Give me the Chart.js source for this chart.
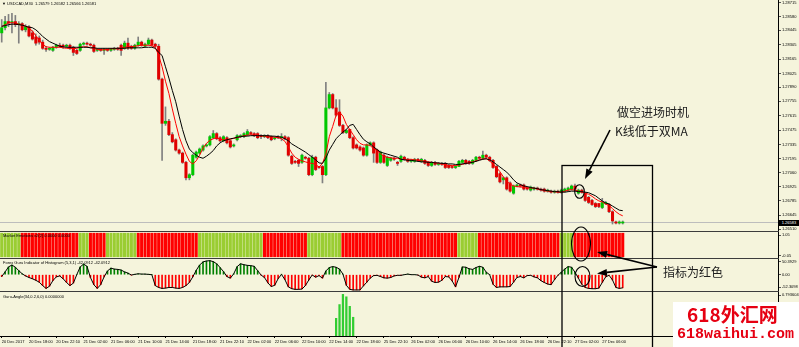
<!DOCTYPE html>
<html>
<head>
<meta charset="utf-8">
<title>USDCAD,M30</title>
<script src="https://cdn.jsdelivr.net/npm/chart.js@4.4.1/dist/chart.umd.min.js"></script>
<style>
html, body { margin: 0; padding: 0; }
body { position: relative; width: 799px; height: 347px; overflow: hidden; background: #f5f4dc; font-family: "Liberation Sans", Arial, sans-serif; }
canvas { position: absolute; left: 0; }
.sep { position: absolute; left: 0; width: 779px; height: 1px; background: #3c3c3c; }
.small { position: absolute; font-size: 4px; line-height: 5px; white-space: nowrap; color: #000; }
.note { position: absolute; font-family: "Noto Sans CJK SC", sans-serif; font-size: 12px; line-height: 14px; color: #202020; white-space: nowrap; }
#bid { position: absolute; left: 779px; top: 219.7px; width: 20px; height: 6px; background: #000; color: #fff; font-size: 4px; line-height: 6px; text-align: center; }
#wm { position: absolute; left: 673px; top: 302px; width: 126px; height: 45px; background: #fff; }
#wm1 { position: absolute; left: 14px; top: 1px; font-family: "Noto Sans CJK SC", sans-serif; font-weight: bold; font-size: 19px; line-height: 22px; color: #e60012; white-space: nowrap; }
#wm2 { position: absolute; left: 4px; top: 24px; font-family: "Liberation Mono", monospace; font-weight: bold; font-size: 15px; line-height: 18px; color: #e60012; white-space: nowrap; }
svg { position: absolute; left: 0; top: 0; }
</style>
</head>
<body>
<canvas id="mainChart" width="799" height="250" style="top:-10px"></canvas>
<canvas id="emoChart" width="799" height="46" style="top:222px"></canvas>
<canvas id="histChart" width="799" height="52" style="top:249px"></canvas>
<canvas id="angleChart" width="799" height="65" style="top:282px"></canvas>

<div class="sep" style="top:231px"></div>
<div class="sep" style="top:258px"></div>
<div class="sep" style="top:291px"></div>

<div class="small" style="left:2px;top:1px">&#9660; USDCAD,M30&nbsp; 1.26579 1.26582 1.26566 1.26581</div>
<div class="small" style="left:3px;top:233px">Market Emotions v2(2) 0.0000 0.0000</div>
<div class="small" style="left:3px;top:260px">Forex Guru Indicator of Histogram (5,3,1) -42.0912 -42.0912</div>
<div class="small" style="left:3px;top:294px">Guru-Angle(34,0.2,6,0) 0.0000000</div>
<div id="bid">1.26583</div>

<svg width="799" height="347">
  <rect x="562" y="165.5" width="90.5" height="190" fill="none" stroke="#000" stroke-width="1.3"/>
  <ellipse cx="579.5" cy="191.5" rx="4.8" ry="6.8" fill="none" stroke="#000" stroke-width="1.1"/>
  <ellipse cx="581" cy="244" rx="9.5" ry="17" fill="none" stroke="#000" stroke-width="1.1"/>
  <ellipse cx="582.5" cy="276.5" rx="7.5" ry="10" fill="none" stroke="#000" stroke-width="1.1"/>
  <line x1="610" y1="130" x2="589.5" y2="170.1" stroke="#000" stroke-width="1.6"/>
  <polygon points="585,179 592.6,171.7 586.4,168.5" fill="#000"/>
  <line x1="657" y1="267" x2="606.7" y2="254.4" stroke="#000" stroke-width="1.6"/>
  <polygon points="597,252 607.6,251 605.9,257.8" fill="#000"/>
  <line x1="657" y1="267" x2="606.9" y2="272.4" stroke="#000" stroke-width="1.6"/>
  <polygon points="597,273.5 607.3,275.9 606.6,268.9" fill="#000"/>
</svg>

<div class="note" style="left:617px;top:105px">做空进场时机</div>
<div class="note" style="left:615px;top:124px">K线低于双MA</div>
<div class="note" style="left:663px;top:265px">指标为红色</div>

<div id="wm"><div id="wm1">618外汇网</div><div id="wm2">618waihui.com</div></div>

<script>
// USDCAD M30, 20 Dec 2017 - 27 Dec 2017
const timeLabels = ['20 Dec 2017', '20 Dec 18:00', '20 Dec 22:10', '21 Dec 02:00', '21 Dec 06:00', '21 Dec 10:00',
    '21 Dec 14:00', '21 Dec 18:00', '21 Dec 22:10', '22 Dec 02:00', '22 Dec 06:00', '22 Dec 10:00', '22 Dec 14:00',
    '22 Dec 18:00', '25 Dec 22:10', '26 Dec 02:00', '26 Dec 06:00', '26 Dec 10:00', '26 Dec 14:00', '26 Dec 18:00',
    '26 Dec 22:10', '27 Dec 02:00', '27 Dec 06:00'];

const openP = [
    1.2842, 1.2847, 1.2853, 1.2852, 1.2853, 1.2850, 1.2851, 1.2845, 1.2848, 1.2842,
    1.2838, 1.2837, 1.2833, 1.2827, 1.2826, 1.2825, 1.2828, 1.2830, 1.2830, 1.2829,
    1.2830, 1.2828, 1.2825, 1.2825, 1.2831, 1.2832, 1.2831, 1.2830, 1.2825, 1.2826,
    1.2825, 1.2826, 1.2825, 1.2826, 1.2827, 1.2830, 1.2827, 1.2832, 1.2829, 1.2827,
    1.2830, 1.2833, 1.2829, 1.2831, 1.2835, 1.2831, 1.2829, 1.2797, 1.2754, 1.2756,
    1.2743, 1.2738, 1.2728, 1.2725, 1.2716, 1.2701, 1.2704, 1.2721, 1.2725, 1.2728,
    1.2732, 1.2733, 1.2740, 1.2744, 1.2740, 1.2737, 1.2740, 1.2737, 1.2732, 1.2738,
    1.2741, 1.2741, 1.2743, 1.2745, 1.2744, 1.2744, 1.2742, 1.2741, 1.2742, 1.2741,
    1.2739, 1.2741, 1.2740, 1.2741, 1.2740, 1.2722, 1.2717, 1.2718, 1.2716, 1.2721,
    1.2720, 1.2704, 1.2721, 1.2712, 1.2712, 1.2704, 1.2769, 1.2782, 1.2769, 1.2765,
    1.2752, 1.2745, 1.2748, 1.2740, 1.2733, 1.2731, 1.2730, 1.2723, 1.2733, 1.2735,
    1.2728, 1.2716, 1.2723, 1.2713, 1.2718, 1.2720, 1.2716, 1.2717, 1.2721, 1.2719,
    1.2717, 1.2717, 1.2719, 1.2717, 1.2718, 1.2716, 1.2713, 1.2716, 1.2714, 1.2715,
    1.2715, 1.2713, 1.2712, 1.2711, 1.2712, 1.2716, 1.2718, 1.2717, 1.2715, 1.2718,
    1.2721, 1.2720, 1.2723, 1.2721, 1.2718, 1.2712, 1.2705, 1.2699, 1.2701, 1.2696,
    1.2686, 1.2693, 1.2694, 1.2694, 1.2691, 1.2689, 1.2690, 1.2691, 1.2690, 1.2690,
    1.2688, 1.2688, 1.2687, 1.2688, 1.2687, 1.2688, 1.2689, 1.2690, 1.2693, 1.2686,
    1.2689, 1.2686, 1.2682, 1.2679, 1.2676, 1.2676, 1.2672, 1.2676, 1.2675, 1.2668,
    1.2658, 1.2657, 1.2657];

const highP = [
    1.2855, 1.2858, 1.2860, 1.2861, 1.2859, 1.2853, 1.2852, 1.2850, 1.2849, 1.2844,
    1.2841, 1.2839, 1.2835, 1.2829, 1.2828, 1.2829, 1.2831, 1.2832, 1.2831, 1.2831,
    1.2831, 1.2829, 1.2826, 1.2832, 1.2833, 1.2833, 1.2832, 1.2831, 1.2827, 1.2827,
    1.2827, 1.2827, 1.2827, 1.2828, 1.2828, 1.2831, 1.2834, 1.2837, 1.2830, 1.2831,
    1.2838, 1.2834, 1.2832, 1.2837, 1.2836, 1.2832, 1.2831, 1.2798, 1.2770, 1.2758,
    1.2745, 1.2739, 1.2729, 1.2726, 1.2717, 1.2705, 1.2724, 1.2727, 1.2730, 1.2733,
    1.2734, 1.2742, 1.2747, 1.2745, 1.2741, 1.2742, 1.2741, 1.2738, 1.2734, 1.2743,
    1.2743, 1.2745, 1.2748, 1.2746, 1.2745, 1.2745, 1.2743, 1.2743, 1.2743, 1.2742,
    1.2741, 1.2742, 1.2744, 1.2742, 1.2741, 1.2723, 1.2718, 1.2719, 1.2724, 1.2722,
    1.2721, 1.2723, 1.2722, 1.2712, 1.2713, 1.2794, 1.2784, 1.2783, 1.2777, 1.2777,
    1.2753, 1.2748, 1.2748, 1.2741, 1.2734, 1.2732, 1.2731, 1.2734, 1.2736, 1.2736,
    1.2729, 1.2727, 1.2724, 1.2722, 1.2721, 1.2721, 1.2717, 1.2723, 1.2722, 1.2720,
    1.2719, 1.2720, 1.2720, 1.2720, 1.2719, 1.2717, 1.2717, 1.2717, 1.2716, 1.2716,
    1.2716, 1.2714, 1.2712, 1.2713, 1.2718, 1.2719, 1.2719, 1.2718, 1.2719, 1.2722,
    1.2722, 1.2727, 1.2724, 1.2722, 1.2719, 1.2713, 1.2706, 1.2702, 1.2702, 1.2697,
    1.2694, 1.2695, 1.2695, 1.2695, 1.2692, 1.2693, 1.2692, 1.2692, 1.2691, 1.2691,
    1.2690, 1.2689, 1.2689, 1.2689, 1.2690, 1.2691, 1.2692, 1.2694, 1.2695, 1.2690,
    1.2690, 1.2687, 1.2683, 1.2680, 1.2677, 1.2676, 1.2681, 1.2678, 1.2676, 1.2669,
    1.2659, 1.2659, 1.2659];

const lowP = [
    1.2833, 1.2845, 1.2848, 1.2842, 1.2848, 1.2832, 1.2844, 1.2843, 1.2838, 1.2835,
    1.2830, 1.2831, 1.2826, 1.2824, 1.2825, 1.2824, 1.2827, 1.2828, 1.2827, 1.2828,
    1.2826, 1.2820, 1.2821, 1.2824, 1.2830, 1.2830, 1.2829, 1.2823, 1.2824, 1.2824,
    1.2821, 1.2824, 1.2824, 1.2825, 1.2825, 1.2820, 1.2826, 1.2826, 1.2826, 1.2826,
    1.2829, 1.2829, 1.2828, 1.2830, 1.2829, 1.2828, 1.2796, 1.2718, 1.2752, 1.2742,
    1.2735, 1.2727, 1.2724, 1.2715, 1.2699, 1.2699, 1.2703, 1.2720, 1.2724, 1.2727,
    1.2731, 1.2732, 1.2739, 1.2738, 1.2736, 1.2736, 1.2734, 1.2730, 1.2731, 1.2737,
    1.2740, 1.2740, 1.2742, 1.2743, 1.2741, 1.2739, 1.2739, 1.2740, 1.2739, 1.2737,
    1.2738, 1.2739, 1.2737, 1.2738, 1.2722, 1.2714, 1.2715, 1.2712, 1.2715, 1.2719,
    1.2703, 1.2703, 1.2708, 1.2710, 1.2696, 1.2703, 1.2768, 1.2768, 1.2761, 1.2751,
    1.2744, 1.2744, 1.2739, 1.2729, 1.2729, 1.2727, 1.2722, 1.2722, 1.2732, 1.2716,
    1.2715, 1.2715, 1.2715, 1.2712, 1.2717, 1.2718, 1.2713, 1.2716, 1.2718, 1.2716,
    1.2716, 1.2716, 1.2717, 1.2716, 1.2714, 1.2712, 1.2712, 1.2713, 1.2713, 1.2713,
    1.2710, 1.2710, 1.2710, 1.2710, 1.2712, 1.2715, 1.2714, 1.2714, 1.2714, 1.2717,
    1.2719, 1.2719, 1.2720, 1.2717, 1.2710, 1.2701, 1.2696, 1.2695, 1.2689, 1.2687,
    1.2685, 1.2692, 1.2692, 1.2689, 1.2689, 1.2688, 1.2689, 1.2689, 1.2688, 1.2687,
    1.2687, 1.2686, 1.2686, 1.2686, 1.2686, 1.2687, 1.2688, 1.2689, 1.2689, 1.2685,
    1.2686, 1.2678, 1.2676, 1.2674, 1.2672, 1.2672, 1.2671, 1.2675, 1.2667, 1.2656,
    1.2656, 1.2656, 1.2656];

const closeP = [
    1.2847, 1.2853, 1.2852, 1.2853, 1.2850, 1.2851, 1.2845, 1.2848, 1.2839, 1.2836,
    1.2832, 1.2833, 1.2827, 1.2826, 1.2827, 1.2828, 1.2830, 1.2829, 1.2829, 1.2830,
    1.2827, 1.2823, 1.2822, 1.2831, 1.2832, 1.2831, 1.2830, 1.2824, 1.2826, 1.2825,
    1.2826, 1.2825, 1.2826, 1.2827, 1.2826, 1.2825, 1.2832, 1.2827, 1.2827, 1.2830,
    1.2833, 1.2830, 1.2831, 1.2835, 1.2830, 1.2829, 1.2797, 1.2754, 1.2756, 1.2743,
    1.2736, 1.2728, 1.2725, 1.2716, 1.2701, 1.2704, 1.2723, 1.2726, 1.2729, 1.2732,
    1.2733, 1.2741, 1.2744, 1.2739, 1.2737, 1.2741, 1.2735, 1.2731, 1.2733, 1.2742,
    1.2742, 1.2744, 1.2746, 1.2744, 1.2742, 1.2740, 1.2741, 1.2742, 1.2740, 1.2738,
    1.2740, 1.2740, 1.2741, 1.2739, 1.2723, 1.2715, 1.2716, 1.2715, 1.2723, 1.2720,
    1.2704, 1.2721, 1.2709, 1.2711, 1.2704, 1.2769, 1.2782, 1.2769, 1.2762, 1.2752,
    1.2745, 1.2747, 1.2740, 1.2730, 1.2730, 1.2728, 1.2723, 1.2733, 1.2735, 1.2725,
    1.2716, 1.2726, 1.2716, 1.2721, 1.2720, 1.2719, 1.2715, 1.2722, 1.2719, 1.2717,
    1.2718, 1.2719, 1.2718, 1.2719, 1.2715, 1.2713, 1.2716, 1.2714, 1.2715, 1.2714,
    1.2711, 1.2711, 1.2711, 1.2712, 1.2717, 1.2718, 1.2715, 1.2715, 1.2718, 1.2721,
    1.2720, 1.2723, 1.2721, 1.2718, 1.2711, 1.2702, 1.2697, 1.2701, 1.2690, 1.2688,
    1.2693, 1.2694, 1.2693, 1.2690, 1.2690, 1.2692, 1.2691, 1.2690, 1.2689, 1.2688,
    1.2689, 1.2687, 1.2688, 1.2687, 1.2689, 1.2690, 1.2691, 1.2693, 1.2690, 1.2689,
    1.2687, 1.2679, 1.2677, 1.2675, 1.2673, 1.2673, 1.2677, 1.2677, 1.2668, 1.2659,
    1.2657, 1.2658, 1.2658];

// red (fast) and black (slow) moving averages as drawn on the chart
const maFast = [
    1.2848, 1.2850, 1.28515, 1.2852, 1.28515, 1.28505, 1.28495, 1.28485, 1.2846, 1.2844,
    1.2839, 1.2835, 1.2831, 1.28285, 1.2828, 1.2828, 1.2828, 1.2828, 1.28275, 1.2827,
    1.2827, 1.28265, 1.2827, 1.2828, 1.28285, 1.28285, 1.28275, 1.2827, 1.2826, 1.28255,
    1.28255, 1.2826, 1.28265, 1.28265, 1.2827, 1.28275, 1.2828, 1.28285, 1.28285, 1.2829,
    1.28295, 1.2830, 1.2830, 1.2830, 1.28295, 1.2828, 1.2820, 1.2809, 1.2795, 1.2783,
    1.2768, 1.2754, 1.2741, 1.2732, 1.2724, 1.2717, 1.27145, 1.27175, 1.2723, 1.2730,
    1.27345, 1.27375, 1.2739, 1.2740, 1.27385, 1.2738, 1.2738, 1.27385, 1.27395, 1.2740,
    1.2741, 1.2742, 1.27425, 1.2743, 1.27425, 1.27425, 1.2742, 1.27415, 1.2741, 1.2741,
    1.27405, 1.2740, 1.2739, 1.27365, 1.2731, 1.2725, 1.2721, 1.2719, 1.27175, 1.27165,
    1.27155, 1.2715, 1.2714, 1.27115, 1.2715, 1.2724, 1.2741, 1.2751, 1.2762, 1.2765,
    1.2761, 1.2753, 1.2748, 1.2743, 1.2738, 1.27345, 1.2733, 1.2733, 1.27325, 1.2729,
    1.2728, 1.27245, 1.2722, 1.2721, 1.27205, 1.2720, 1.2720, 1.2719, 1.2719, 1.2719,
    1.2719, 1.27185, 1.2718, 1.27175, 1.2717, 1.27165, 1.2716, 1.27155, 1.2715, 1.27145,
    1.2714, 1.2713, 1.2713, 1.2713, 1.27135, 1.2714, 1.2715, 1.27155, 1.27165, 1.27175,
    1.27185, 1.27195, 1.27195, 1.27175, 1.2714, 1.2711, 1.2707, 1.2702, 1.26975, 1.2695,
    1.2693, 1.26925, 1.2692, 1.2692, 1.26915, 1.2691, 1.2691, 1.2690, 1.26895, 1.26885,
    1.2688, 1.26875, 1.26875, 1.2687, 1.2687, 1.2688, 1.2689, 1.26895, 1.2689, 1.2688,
    1.2687, 1.2686, 1.2685, 1.2683, 1.26805, 1.26785, 1.26775, 1.26755, 1.2674, 1.2671,
    1.2668, 1.26655, 1.2664];

const maSlow = [
    1.28485, 1.2849, 1.2850, 1.28505, 1.28505, 1.2850, 1.28495, 1.28485, 1.28475, 1.2847,
    1.2845, 1.2842, 1.28385, 1.2836, 1.28335, 1.2832, 1.28305, 1.2829, 1.28285, 1.2828,
    1.2828, 1.2828, 1.2828, 1.2828, 1.2828, 1.2828, 1.28275, 1.28275, 1.2827, 1.2827,
    1.2827, 1.2827, 1.2827, 1.2827, 1.2827, 1.2827, 1.2827, 1.28275, 1.28275, 1.28275,
    1.28275, 1.28275, 1.2828, 1.2828, 1.2828, 1.2827, 1.2823, 1.2820, 1.2809, 1.2798,
    1.2786, 1.2775, 1.2761, 1.2748, 1.2737, 1.2729, 1.27255, 1.2723, 1.2721, 1.2720,
    1.2722, 1.27245, 1.27275, 1.2732, 1.2735, 1.2737, 1.2738, 1.2739, 1.27395, 1.27405,
    1.2741, 1.27415, 1.27415, 1.2742, 1.2742, 1.2742, 1.2742, 1.2742, 1.2742, 1.27415,
    1.27415, 1.2741, 1.27405, 1.2739, 1.2737, 1.2734, 1.2732, 1.2730, 1.2728, 1.2726,
    1.27235, 1.2721, 1.27185, 1.27155, 1.2715, 1.2720, 1.2728, 1.27335, 1.2739, 1.27425,
    1.27455, 1.2748, 1.2752, 1.2753, 1.2748, 1.2743, 1.27385, 1.2736, 1.2734, 1.2731,
    1.27285, 1.2726, 1.2725, 1.2724, 1.2723, 1.2722, 1.2721, 1.2719, 1.27185, 1.2718,
    1.2718, 1.27175, 1.2717, 1.27165, 1.27165, 1.2716, 1.2716, 1.27155, 1.27155, 1.2715,
    1.2715, 1.27145, 1.27145, 1.2714, 1.2714, 1.27145, 1.2715, 1.27155, 1.2716, 1.2717,
    1.2718, 1.2719, 1.27195, 1.27185, 1.27165, 1.2714, 1.27115, 1.2709, 1.27065, 1.2703,
    1.2699, 1.2696, 1.26945, 1.2693, 1.26925, 1.26915, 1.2691, 1.26905, 1.26895, 1.2689,
    1.26885, 1.2688, 1.26875, 1.26875, 1.2687, 1.2687, 1.26875, 1.2688, 1.2688, 1.26875,
    1.26875, 1.2687, 1.26865, 1.2685, 1.26835, 1.2681, 1.26785, 1.26765, 1.26755, 1.26735,
    1.26715, 1.26695, 1.2669];

const priceTicks = [1.28715, 1.28580, 1.28445, 1.28305, 1.28165, 1.28025, 1.27890, 1.27755, 1.27615,
    1.27475, 1.27335, 1.27195, 1.27060, 1.26925, 1.26785, 1.26645, 1.26510];
const bidPrice = 1.26583;

// Market Emotions: 1 = green bar, 0 = red bar
const emotion = [
    1, 1, 1, 1, 1, 1, 0, 0, 0, 0,  0, 0, 0, 0, 0, 0, 0, 0, 0, 0,
    0, 0, 0, 1, 1, 1, 0, 0, 0, 0,  0, 1, 1, 1, 1, 1, 1, 1, 1, 1,
    0, 0, 0, 0, 0, 0, 0, 0, 0, 0,  0, 0, 0, 0, 0, 0, 0, 0, 1, 1,
    1, 1, 1, 1, 1, 1, 1, 1, 1, 1,  1, 1, 1, 1, 1, 1, 1, 0, 0, 0,
    0, 0, 0, 0, 0, 0, 0, 0, 0, 0,  1, 1, 1, 1, 1, 1, 1, 1, 1, 1,
    0, 0, 0, 0, 0, 0, 0, 0, 0, 0,  0, 0, 0, 0, 0, 0, 0, 0, 0, 0,
    0, 0, 0, 0, 0, 0, 0, 0, 0, 0,  0, 0, 0, 0, 1, 1, 1, 1, 1, 1,
    0, 0, 0, 0, 0, 0, 0, 0, 0, 0,  0, 0, 0, 0, 0, 0, 0, 0, 0, 0,
    0, 0, 0, 0, 1, 1, 1, 1, 0, 0,  0, 0, 0, 0, 0, 0, 0, 0, 0, 0,
    0, 0, 0];

// Forex Guru histogram
const guruHist = [
    -6, 9, 25, 31, 24, 13, 3, -4, -9, -13,
    -18, -24, -35, -44, -37, -19, -7, -4, -13, -25,
    -35, -27, 0, 25, 34, 27, -9, -32, -44, -32,
    -7, 12, 21, 18, 17, 15, 9, 5, -1, 1,
    3, 2, 2, 1, 0, -35, -41, -44, -43, -41,
    -41, -43, -44, -41, -35, -25, -7, 14, 31, 41,
    44, 45, 42, 35, 23, 10, -6, -11, 3, 26,
    35, 32, 30, 29, 27, 13, -1, -9, -26, -38,
    -34, -13, 1, -16, -39, -45, -47, -47, -46, -35,
    -17, -1, -8, -3, -11, 12, 23, 26, 24, 18,
    2, -34, -47, -49, -49, -49, -36, -24, -11, -3,
    -2, -6, -10, -11, -9, -4, -2, -2, 0, 2,
    0, 0, -1, -8, -10, -6, -21, -25, -24, -18,
    -6, -7, -20, -39, -9, 25, 24, 19, 17, 23,
    27, 24, 8, 0, -31, -41, -39, -39, -39, -38,
    -24, -9, -6, -10, -3, -2, -7, -10, -19, -25,
    -30, -32, -16, -2, 8, 18, 26, 24, 8, -11,
    -31, -41, -44, -45, -45, -43, -25, -7, -2, -17,
    -41, -44, -42.09];

// Guru-Angle is 0 everywhere except these bars
const guruAngleStart = 98;
const guruAngle = [0.319, 0.567, 0.751, 0.707, 0.535, 0.338];

const FONT = 'Liberation Sans';
const SLOTS = 228;
const BULL = '#00c800', BEAR = '#e00000';

const categories = [];
for (let i = 0; i < SLOTS; i++) {
    categories.push(i % 8 === 0 && timeLabels[i / 8] ? timeLabels[i / 8] : '');
}

const hiddenX = { type: 'category', display: false, offset: true };

// marks: [value, text, px shift down] -- MT4 prints the edge labels just inside the panel
function axisRight(min, max, marks, panelPx) {
    const perPx = (max - min) / panelPx;
    return {
        position: 'right',
        min: min,
        max: max,
        afterFit: function(s) { s.width = 21; },
        afterBuildTicks: function(s) {
            s.ticks = marks.map(function(m) { return { value: m[0] - m[2] * perPx }; });
        },
        border: { display: true, color: '#000' },
        grid: { drawOnChartArea: false, drawTicks: true, tickLength: 3, color: '#555' },
        ticks: {
            autoSkip: false,
            padding: 1,
            color: '#000',
            font: { family: FONT, size: 4 },
            callback: function(v, i) { return marks[i] ? marks[i][1] : ''; }
        }
    };
}

function baseOptions(padTop, padBottom, scales) {
    return {
        responsive: false,
        animation: false,
        events: [],
        layout: { padding: { top: padTop, bottom: padBottom, left: 0, right: 0 } },
        plugins: { legend: { display: false }, tooltip: { enabled: false } },
        scales: scales
    };
}

const bidLine = {
    id: 'bidLine',
    beforeDatasetsDraw: function(chart) {
        const ctx = chart.ctx, a = chart.chartArea;
        const y = Math.round(chart.scales.y.getPixelForValue(bidPrice)) + 0.5;
        ctx.save();
        ctx.strokeStyle = '#bdbdbd';
        ctx.lineWidth = 1;
        ctx.beginPath();
        ctx.moveTo(a.left, y);
        ctx.lineTo(a.right, y);
        ctx.stroke();
        ctx.restore();
    }
};

// price window
const wicks = lowP.map(function(l, i) { return [l, highP[i]]; });
const bodies = openP.map(function(o, i) { return [o, closeP[i]]; });
const bodyColors = openP.map(function(o, i) { return closeP[i] >= o ? BULL : BEAR; });

new Chart(document.getElementById('mainChart'), {
    type: 'bar',
    data: {
        labels: categories,
        datasets: [
            { type: 'line', label: 'MA slow', data: maSlow, borderColor: '#000', borderWidth: 1, pointRadius: 0, order: 0 },
            { type: 'line', label: 'MA fast', data: maFast, borderColor: '#ff0000', borderWidth: 1, pointRadius: 0, order: 1 },
            { label: 'body', data: bodies, backgroundColor: bodyColors, barThickness: 2.4, minBarLength: 1, grouped: false, order: 2 },
            { label: 'wick', data: wicks, backgroundColor: '#808080', barThickness: 1, grouped: false, order: 3 }
        ]
    },
    options: baseOptions(10, 10, {
        x: hiddenX,
        y: axisRight(1.26502, 1.28740, priceTicks.map(function(v) { return [v, v.toFixed(5), 0]; }), 230)
    }),
    plugins: [bidLine]
});

// Market Emotions window
new Chart(document.getElementById('emoChart'), {
    type: 'bar',
    data: {
        labels: categories,
        datasets: [
            { label: 'up', data: emotion.map(function(e) { return e === 1 ? 1 : null; }), backgroundColor: '#9acd32', barThickness: 2.4, grouped: false },
            { label: 'down', data: emotion.map(function(e) { return e === 0 ? 1 : null; }), backgroundColor: '#ff0000', barThickness: 2.4, grouped: false }
        ]
    },
    options: baseOptions(10, 10, {
        x: hiddenX,
        y: axisRight(-0.05, 1.05, [[1.05, '1.05', 3], [-0.05, '-0.05', -2.3]], 26)
    })
});

// Forex Guru histogram window
new Chart(document.getElementById('histChart'), {
    type: 'bar',
    data: {
        labels: categories,
        datasets: [
            { type: 'line', label: 'line', data: guruHist, borderColor: '#000', borderWidth: 1, pointRadius: 0, order: 0 },
            { label: 'hist', data: guruHist, backgroundColor: guruHist.map(function(v) { return v >= 0 ? '#008000' : '#ff0000'; }), barThickness: 1, order: 1 }
        ]
    },
    options: baseOptions(10, 10, {
        x: hiddenX,
        y: axisRight(-52.3098, 50.3929, [[50.3929, '50.3929', 2.7], [0, '0.00', 0], [-52.3098, '-52.3098', -3.7]], 32)
    })
});

// Guru-Angle window + time axis
const angleData = openP.map(function() { return null; });
guruAngle.forEach(function(v, k) { angleData[guruAngleStart + k] = v; });

new Chart(document.getElementById('angleChart'), {
    type: 'bar',
    data: {
        labels: categories,
        datasets: [
            { label: 'angle', data: angleData, backgroundColor: '#32cd32', barThickness: 1.6 }
        ]
    },
    options: baseOptions(10, 0, {
        x: {
            type: 'category',
            offset: true,
            position: 'bottom',
            afterFit: function(s) { s.height = 11; },
            border: { display: true, color: '#000' },
            grid: { offset: false, drawOnChartArea: false, drawTicks: true, tickLength: 2, color: '#000' },
            ticks: {
                autoSkip: false,
                maxRotation: 0,
                minRotation: 0,
                align: 'start',
                padding: 1,
                color: '#000',
                font: { family: FONT, size: 4 },
                callback: function(v, i) { return categories[i] || null; }
            }
        },
        y: axisRight(0, 0.793604, [[0.793604, '0.793604', 3]], 44)
    })
});
</script>
</body>
</html>
